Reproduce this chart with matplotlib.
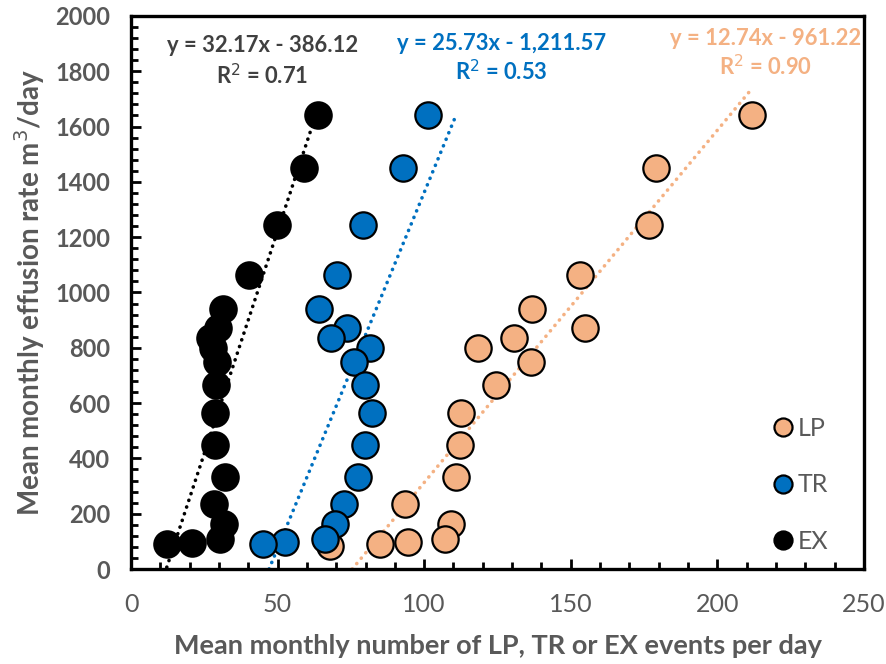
import matplotlib

matplotlib.use("Agg")
import matplotlib.pyplot as plt
from matplotlib.lines import Line2D
from matplotlib.ticker import MultipleLocator

# mean monthly event counts per day (x) against effusion rate (y)
lp_x = [211.7, 179.0, 176.7, 153.3, 136.8, 154.8, 130.6, 118.3, 136.3, 124.6,
        112.7, 112.1, 110.7, 93.3, 109.2, 107.0, 94.4, 85.0, 67.9]
lp_y = [1640, 1450, 1245, 1065, 940, 870, 835, 800, 750, 665,
        563, 448, 334, 234, 163, 108, 99, 89, 85]

tr_x = [101.3, 92.7, 79.0, 70.3, 64.2, 73.7, 68.2, 81.4, 75.9, 79.9,
        82.2, 79.9, 77.3, 72.8, 69.7, 66.3, 52.6, 45.0]
tr_y = [1640, 1450, 1245, 1065, 940, 870, 835, 800, 750, 665,
        563, 448, 334, 234, 163, 108, 99, 89]

ex_x = [63.8, 58.9, 49.8, 40.1, 31.3, 29.8, 27.0, 28.1, 29.5, 29.0,
        28.7, 28.7, 31.9, 28.3, 31.8, 30.2, 20.7, 12.2]
ex_y = [1640, 1450, 1245, 1065, 940, 870, 835, 800, 750, 665,
        563, 448, 334, 234, 163, 108, 93, 89]

# linear fits (slope, intercept, r2) and the x span each trendline covers
lp_fit = (12.74, -961.22, 0.90)
tr_fit = (25.73, -1211.57, 0.53)
ex_fit = (32.17, -386.12, 0.71)
lp_span = (67.9, 211.7)
tr_span = (45.0, 110.7)
ex_span = (12.2, 63.8)

LP_C = "#F4B183"
TR_C = "#0070C0"
EX_C = "#000000"
GREY = "#595959"

plt.rcParams["font.family"] = ["Lato", "DejaVu Sans"]

fig = plt.figure(figsize=(8.87, 6.64), dpi=100)
ax = fig.add_axes([0.1477, 0.143, 0.8263, 0.833])


def trend(span, fit, color):
    m, b, _ = fit
    x0, x1 = span
    # start where the line enters the plot at y = 0
    x0 = max(x0, -b / m)
    ax.plot([x0, x1], [m * x0 + b, m * x1 + b], color=color, lw=2.6,
            linestyle=(0, (0.05, 1.9)), dash_capstyle="round", zorder=2)


trend(lp_span, lp_fit, LP_C)
trend(tr_span, tr_fit, TR_C)
trend(ex_span, ex_fit, EX_C)

kw = dict(s=360, edgecolors="black", linewidths=1.6, zorder=3)
ax.scatter(lp_x, lp_y, c=LP_C, **kw)
ax.scatter(tr_x, tr_y, c=TR_C, **kw)
ax.scatter(ex_x, ex_y, c=EX_C, **kw)

ax.set_xlim(0, 250)
ax.set_ylim(0, 2000)
ax.xaxis.set_major_locator(MultipleLocator(50))
ax.xaxis.set_minor_locator(MultipleLocator(10))
ax.yaxis.set_major_locator(MultipleLocator(200))
ax.yaxis.set_minor_locator(MultipleLocator(40))
ax.tick_params(which="both", direction="in", width=2, color="black")
ax.tick_params(which="major", length=7)
ax.tick_params(which="minor", length=5)
ax.tick_params(axis="x", which="major", labelsize=18, labelcolor=GREY, pad=17)
ax.tick_params(axis="y", which="major", labelsize=17, labelcolor=GREY, pad=15)
for lab in ax.get_yticklabels():
    lab.set_fontweight("bold")
for sp in ax.spines.values():
    sp.set_linewidth(2.4)

ax.set_xlabel("Mean monthly number of LP, TR or EX events per day",
              fontsize=19.5, color=GREY, fontweight="bold", labelpad=13)
ax.set_ylabel("Mean monthly effusion rate m$^3$/day",
              fontsize=20, color=GREY, fontweight="bold", labelpad=6)


def eq_text(xc, y_eq, y_r2, fit, color):
    m, b, r2 = fit
    sign = "-" if b < 0 else "+"
    eq = f"y = {m:.2f}x {sign} {abs(b):,.2f}"
    ax.text(xc, y_eq, eq, transform=ax.transAxes, ha="center", va="center",
            fontsize=15.8, fontweight="bold", color=color)
    ax.text(xc, y_r2, f"R$^2$ = {r2:.2f}", transform=ax.transAxes,
            ha="center", va="center", fontsize=15.8, fontweight="bold", color=color)


eq_text(0.179, 0.946, 0.893, ex_fit, "#404040")
eq_text(0.505, 0.950, 0.900, tr_fit, TR_C)
eq_text(0.866, 0.960, 0.909, lp_fit, LP_C)

handles = [
    Line2D([], [], marker="o", ls="none", ms=13, mfc=LP_C, mec="black", mew=1.6, label="LP"),
    Line2D([], [], marker="o", ls="none", ms=13, mfc=TR_C, mec="black", mew=1.6, label="TR"),
    Line2D([], [], marker="o", ls="none", ms=13, mfc=EX_C, mec="black", mew=1.6, label="EX"),
]
ax.legend(handles=handles, loc="lower right", bbox_to_anchor=(0.982, -0.012),
          frameon=False, fontsize=18, labelcolor=GREY, labelspacing=1.35,
          handletextpad=0.1, handlelength=1.0)

fig.savefig("out.png", dpi=100)
